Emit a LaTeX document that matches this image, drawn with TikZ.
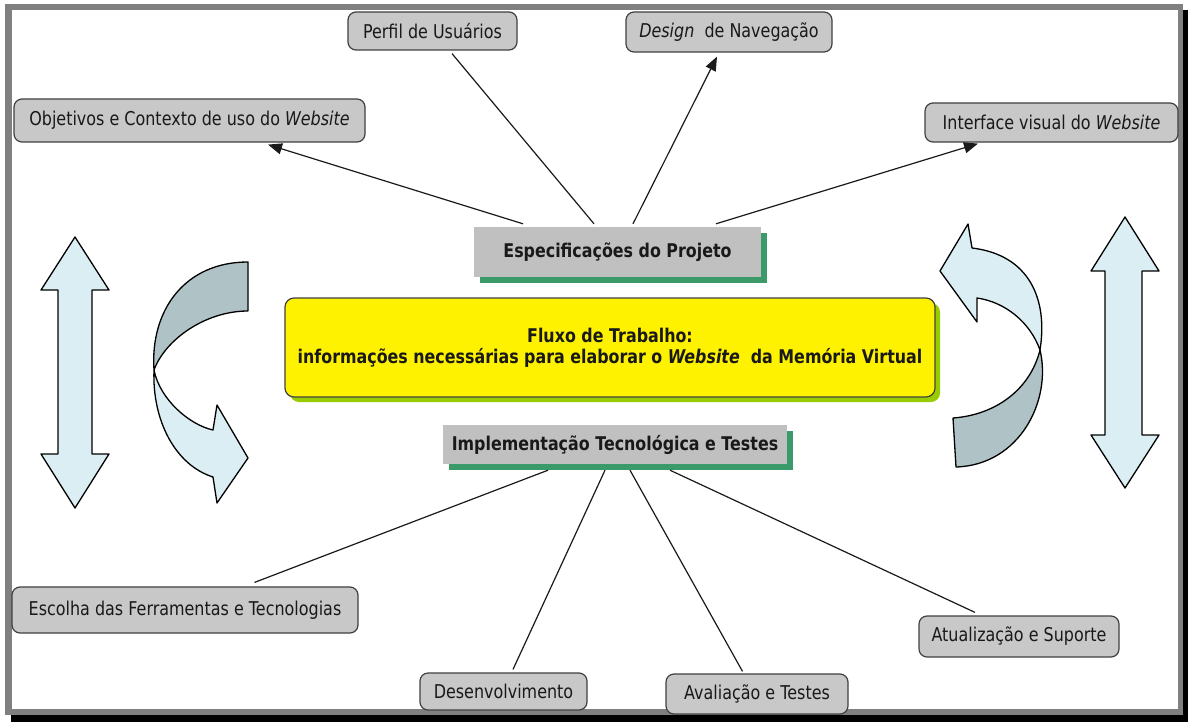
\documentclass[tikz,border=0pt]{standalone}
\usepackage{fontspec}
\setmainfont{DejaVu Sans}
\newfontfamily\nf[FakeStretch=0.84]{DejaVu Sans}
\usetikzlibrary{arrows.meta,shadows}
\definecolor{framegray}{HTML}{808080}
\definecolor{boxgray}{HTML}{C8C8C8}
\definecolor{boxline}{HTML}{404040}
\definecolor{silverbox}{HTML}{C0C0C0}
\definecolor{seagreen}{HTML}{3A9A6A}
\definecolor{ygreen}{HTML}{99CC00}
\definecolor{lightarrow}{HTML}{DAEEF3}
\definecolor{grayarrow}{HTML}{AFC2C6}
\definecolor{linecol}{HTML}{1A1A1A}
\begin{document}
\begin{tikzpicture}[x=1pt,y=-1pt,
  leaf/.style={rounded corners=8pt, draw=boxline, fill=boxgray, line width=1.2pt,
    inner sep=0pt, font=\nf\fontsize{19}{22}\selectfont, text=black!90},
  stagebox/.style={fill=silverbox, inner sep=0pt,
    font=\nf\bfseries\fontsize{18.9}{22}\selectfont, text=black!90,
    drop shadow={shadow xshift=6pt, shadow yshift=-6pt, fill=seagreen, opacity=1}},
  centerbox/.style={rounded corners=9pt, draw=boxline, fill=yellow, line width=1.2pt,
    inner sep=0pt, align=center, font=\nf\bfseries\fontsize{18.9}{21}\selectfont, text=black!90,
    drop shadow={shadow xshift=5pt, shadow yshift=-5pt, fill=ygreen, opacity=1}},
  conn/.style={draw=linecol, line width=1.2pt},
  connarrow/.style={conn, -{Triangle[length=14pt,width=11pt]}},
  bigarrow/.style={draw=black, line width=1.3pt, line join=round}]
\useasboundingbox (0,0) rectangle (1188,725);
\fill[white] (0,0) rectangle (1188,725);
% frame
\fill[framegray] (5,4) rectangle (1183,715);
\fill[white] (12,10) rectangle (1178,709);
\fill[black] (1183,10) rectangle (1188,722);
\fill[black] (11,715) rectangle (1188,722);

% leaf nodes
\node[leaf, minimum width=169pt, minimum height=38pt] (perfil) at (432.5,31) {Perfil de Usuários};
\node[leaf, minimum width=206pt, minimum height=40pt] (design) at (729,32) {\textit{Design}~ de Navegação};
\node[leaf, minimum width=351pt, minimum height=43pt] (obj) at (189.5,120.5) {Objetivos e Contexto de uso do \textit{Website}};
\node[leaf, minimum width=253pt, minimum height=39pt] (iface) at (1051.5,122.5) {Interface visual do \textit{Website}};
\node[leaf, minimum width=346pt, minimum height=46pt] (escolha) at (185,610) {Escolha das Ferramentas e Tecnologias};
\node[leaf, minimum width=167pt, minimum height=37pt] (desenv) at (503.5,691.5) {Desenvolvimento};
\node[leaf, minimum width=182pt, minimum height=40pt] (aval) at (757,694) {Avaliação e Testes};
\node[leaf, minimum width=200pt, minimum height=41pt] (atual) at (1019,636.5) {Atualização e Suporte};

% central nodes
\node[stagebox, minimum width=287pt, minimum height=50pt] (esp) at (617.5,252) {Especificações do Projeto};
\node[centerbox, minimum width=650pt, minimum height=99pt] (fluxo) at (610,347.5)
  {Fluxo de Trabalho:\\informações necessárias para elaborar o \textit{Website}~ da Memória Virtual};
\node[stagebox, minimum width=344pt, minimum height=39pt] (impl) at (615,444.5) {Implementação Tecnológica e Testes};

% connectors top
\draw[connarrow] ([xshift=-94.5pt,yshift=3pt]esp.north) -- ([xshift=78.5pt,yshift=-2pt]obj.south);
\draw[conn] ([xshift=-23.5pt,yshift=3pt]esp.north) -- ([xshift=19.5pt,yshift=-3pt]perfil.south);
\draw[connarrow] ([xshift=15.5pt,yshift=3pt]esp.north) -- ([xshift=-12pt,yshift=-4pt]design.south);
\draw[connarrow] ([xshift=98.5pt,yshift=3pt]esp.north) -- ([xshift=-73.5pt,yshift=-1pt]iface.south);
% connectors bottom
\draw[conn] ([xshift=-67pt,yshift=-6pt]impl.south) -- ([xshift=69.5pt,yshift=4pt]escolha.north);
\draw[conn] ([xshift=-10pt,yshift=-6pt]impl.south) -- ([xshift=9.5pt,yshift=3pt]desenv.north);
\draw[conn] ([xshift=15pt,yshift=-6pt]impl.south) -- ([xshift=-14.5pt,yshift=2pt]aval.north);
\draw[conn] ([xshift=55pt,yshift=-6pt]impl.south) -- ([xshift=-44pt,yshift=3pt]atual.north);

% left double arrow
\filldraw[bigarrow, fill=lightarrow] (75,237) -- (109,290) -- (92,290) -- (92,454) -- (109,454) -- (75,508)
  -- (41,454) -- (58,454) -- (58,290) -- (41,290) -- cycle;
% right double arrow
\filldraw[bigarrow, fill=lightarrow] (1125,217) -- (1159,271) -- (1142,271) -- (1142,435) -- (1159,435) -- (1125,488)
  -- (1091,435) -- (1105,435) -- (1105,271) -- (1091,271) -- cycle;

% left curved arrow
\filldraw[bigarrow, fill=grayarrow] (248,262) -- (248,311) .. controls (205,311) and (165,340) .. (154,370)
  .. controls (150,310) and (185,262) .. (248,262) -- cycle;
\filldraw[bigarrow, fill=lightarrow] (154,370) .. controls (152,420) and (175,465) .. (213,477)
  -- (217,503) -- (248,458) -- (217,405) -- (213,430)
  .. controls (190,425) and (160,400) .. (154,370) -- cycle;

% right curved arrow
\filldraw[bigarrow, fill=lightarrow] (1040,350) .. controls (1048,300) and (1030,255) .. (972,248)
  -- (968,224) -- (940,271) -- (977,322) -- (977,298)
  .. controls (1005,302) and (1030,322) .. (1040,350) -- cycle;
\filldraw[bigarrow, fill=grayarrow] (1040,350) .. controls (1052,400) and (1020,465) .. (956,467)
  -- (953,418) .. controls (995,415) and (1030,390) .. (1040,350) -- cycle;
\end{tikzpicture}
\end{document}
